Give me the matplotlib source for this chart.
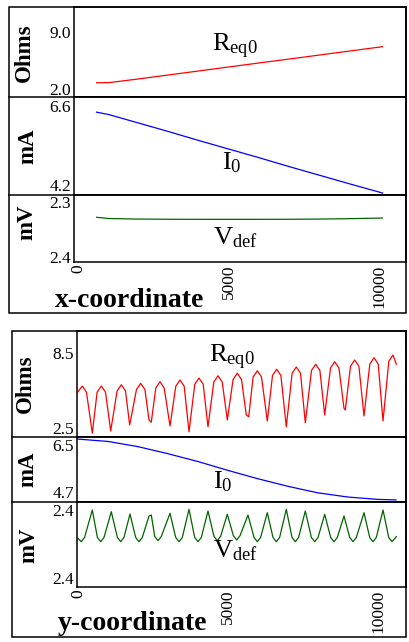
import matplotlib
matplotlib.use("Agg")
import matplotlib.pyplot as plt
from matplotlib.patches import Rectangle
from matplotlib.lines import Line2D

plt.rcParams['font.family'] = ['Liberation Serif', 'DejaVu Serif']
plt.rcParams['mathtext.fontset'] = 'custom'
plt.rcParams['mathtext.rm'] = 'Liberation Serif'
plt.rcParams['mathtext.it'] = 'Liberation Serif:italic'

# --- x-coordinate sweep (top block) ---
tx = [600, 1000, 2000, 3000, 4000, 5000, 6000, 7000, 8000, 9000, 10100]
t_req0 = [2.77, 2.78, 3.24, 3.73, 4.22, 4.71, 5.20, 5.68, 6.17, 6.66, 7.20]
t_i0 = [6.41, 6.34, 6.08, 5.82, 5.55, 5.29, 5.03, 4.76, 4.50, 4.24, 3.96]
t_vdef = [2.3278, 2.3300, 2.3310, 2.3314, 2.3315, 2.3315, 2.3315, 2.3314, 2.3310, 2.3303, 2.3291]

# --- y-coordinate sweep (bottom block) ---
rx = [0, 143, 283,
      477, 637, 777, 917,
      1090, 1303, 1443, 1583,
      1723, 1950, 2090, 2230,
      2367, 2443, 2593, 2733, 2873,
      3067, 3260, 3400, 3540,
      3700, 3893, 4033, 4173,
      4333, 4527, 4667, 4807,
      4977, 5170, 5310, 5450,
      5610, 5690, 5837, 5977, 6117,
      6310, 6483, 6623, 6763,
      6943, 7137, 7277, 7417,
      7577, 7783, 7923, 8063,
      8223, 8417, 8557, 8697,
      8867, 8910, 9083, 9223, 9363,
      9533, 9727, 9867, 10007,
      10167, 10360, 10500, 10610]
ry = [5.40, 5.86, 5.36,
      2.08, 5.36, 5.86, 5.36,
      2.26, 5.46, 5.96, 5.46,
      2.74, 5.58, 6.08, 5.58,
      3.14, 2.96, 5.70, 6.20, 5.70,
      2.66, 5.84, 6.34, 5.84,
      2.20, 6.00, 6.50, 6.00,
      2.60, 6.18, 6.68, 6.18,
      3.14, 6.38, 6.88, 6.38,
      3.54, 3.40, 6.58, 7.08, 6.58,
      3.06, 6.70, 7.20, 6.70,
      2.60, 6.88, 7.38, 6.88,
      2.92, 7.10, 7.60, 7.10,
      3.54, 7.30, 7.80, 7.30,
      4.08, 3.94, 7.44, 7.94, 7.44,
      3.46, 7.62, 8.12, 7.62,
      3.06, 7.84, 8.34, 7.60]

bx = [0, 1000, 2000, 3000, 4000, 5000, 6000, 7000, 8000, 9000, 10000, 10600]
b_i0 = [6.73, 6.64, 6.44, 6.17, 5.87, 5.53, 5.21, 4.92, 4.67, 4.51, 4.42, 4.40]

gx = [0, 110, 220,
      477, 647, 757, 867,
      1110, 1313, 1423, 1533,
      1733, 1923, 2033, 2143,
      2367, 2443, 2557, 2667, 2777,
      3067, 3257, 3367, 3477,
      3700, 3890, 4000, 4110,
      4333, 4533, 4643, 4753,
      4977, 5180, 5290, 5400,
      5667, 5867, 5977, 6087,
      6310, 6500, 6610, 6720,
      6943, 7133, 7243, 7353,
      7577, 7780, 7890, 8000,
      8223, 8423, 8533, 8643,
      8867, 9057, 9167, 9277,
      9533, 9723, 9833, 9943,
      10167, 10357, 10467, 10610]
gy = [2.4067, 2.4027, 2.4077,
      2.4400, 2.4077, 2.4027, 2.4077,
      2.4380, 2.4077, 2.4027, 2.4077,
      2.4353, 2.4077, 2.4027, 2.4077,
      2.4329, 2.4341, 2.4089, 2.4039, 2.4089,
      2.4361, 2.4077, 2.4027, 2.4077,
      2.4408, 2.4077, 2.4027, 2.4077,
      2.4388, 2.4089, 2.4039, 2.4089,
      2.4349, 2.4097, 2.4047, 2.4097,
      2.4341, 2.4077, 2.4027, 2.4077,
      2.4368, 2.4077, 2.4027, 2.4077,
      2.4408, 2.4077, 2.4027, 2.4077,
      2.4388, 2.4077, 2.4027, 2.4077,
      2.4349, 2.4077, 2.4027, 2.4077,
      2.4329, 2.4077, 2.4027, 2.4077,
      2.4368, 2.4077, 2.4027, 2.4077,
      2.4400, 2.4077, 2.4027, 2.4086]

x_ticks = [0, 5000, 10000]
x_ticklabels = ['0', '5000', '10000']
units = ['Ohms', 'mA', 'mV']

W, H = 409, 642
fig = plt.figure(figsize=(W / 100, H / 100), dpi=100)


def fx(px):
    return px / W


def fy(py):
    return 1 - py / H


def add_ax(left, right, top, bottom):
    ax = fig.add_axes([fx(left), fy(bottom), fx(right) - fx(left), fy(top) - fy(bottom)])
    for s in ax.spines.values():
        s.set_linewidth(1.1)
    ax.tick_params(length=0, labelsize=12.5, pad=2)
    return ax


def frame(left, right, top, bottom, seps):
    fig.add_artist(Rectangle((fx(left), fy(bottom)), fx(right) - fx(left), fy(top) - fy(bottom),
                             fill=False, lw=1.1, color='black', transform=fig.transFigure))
    for s in seps:
        fig.add_artist(Line2D([fx(left), fx(right)], [fy(s), fy(s)], lw=1.1, color='black',
                              transform=fig.transFigure))


def label(px, py, s, **kw):
    fig.text(fx(px), fy(py), s, **kw)


# ---------- top block ----------
frame(9, 406, 7, 313, [97, 195])
a1 = add_ax(74, 406, 7, 97)
a1.plot(tx, t_req0, color='red', lw=0.9)
a1.set_ylim(1.02, 12.07)
a1.set_yticks([2.0, 9.0], ['2.0', '9.0'])

a2 = add_ax(74, 406, 97, 195)
a2.plot(tx, t_i0, color='blue', lw=0.9)
a2.set_ylim(3.90, 6.87)
a2.set_yticks([4.2, 6.6], ['4.2', '6.6'])

a3 = add_ax(74, 406, 195, 262)
a3.plot(tx, t_vdef, color='darkgreen', lw=0.9)
a3.set_ylim(2.409, 2.2873)
a3.set_yticks([2.3, 2.4], ['2.3', '2.4'])

for ax in (a1, a2, a3):
    ax.set_xlim(-150, 10880)
a1.set_xticks([])
a2.set_xticks([])
a3.set_xticks(x_ticks, x_ticklabels, rotation=90)

ylab = dict(rotation=90, ha='center', va='center', fontsize=16.5, fontweight='bold')
label(24, 53, units[0], **ylab)
label(28, 146, units[1], **ylab)
label(27, 222, units[2], **ylab)
label(235, 46, r'$\mathrm{R}_{\mathrm{eq0}}$', ha='center', va='center', fontsize=19)
label(232, 163, r'$\mathrm{I}_{0}$', ha='center', va='center', fontsize=19)
label(235, 238, r'$\mathrm{V}_{\mathrm{def}}$', ha='center', va='center', fontsize=19)
label(130, 307, 'x-coordinate', ha='center', va='baseline', fontsize=20, fontweight='bold')

# ---------- bottom block ----------
frame(12, 406, 331, 637, [437, 502])
b1 = add_ax(77, 406, 331, 437)
b1.plot(rx, ry, color='red', lw=0.9)
b1.set_ylim(1.78, 10.26)
b1.set_yticks([2.5, 8.5], ['2.5', '8.5'])

b2 = add_ax(77, 406, 437, 502)
b2.plot(bx, b_i0, color='blue', lw=0.9)
b2.set_ylim(4.32, 6.81)
b2.set_yticks([4.7, 6.5], ['4.7', '6.5'])

b3 = add_ax(77, 406, 502, 587)
b3.plot(gx, gy, color='darkgreen', lw=0.9)
b3.set_ylim(2.3494, 2.4494)
b3.set_yticks([2.36, 2.44], ['2.4', '2.4'])

for ax in (b1, b2, b3):
    ax.set_xlim(-33, 10933)
b1.set_xticks([])
b2.set_xticks([])
b3.set_xticks(x_ticks, x_ticklabels, rotation=90)

label(25, 384, units[0], **ylab)
label(28, 469, units[1], **ylab)
label(29, 545, units[2], **ylab)
label(232, 357, r'$\mathrm{R}_{\mathrm{eq0}}$', ha='center', va='center', fontsize=19)
label(223, 482, r'$\mathrm{I}_{0}$', ha='center', va='center', fontsize=19)
label(235, 551, r'$\mathrm{V}_{\mathrm{def}}$', ha='center', va='center', fontsize=19)
label(132, 630, 'y-coordinate', ha='center', va='baseline', fontsize=20, fontweight='bold')

fig.savefig('out.png', dpi=100)
